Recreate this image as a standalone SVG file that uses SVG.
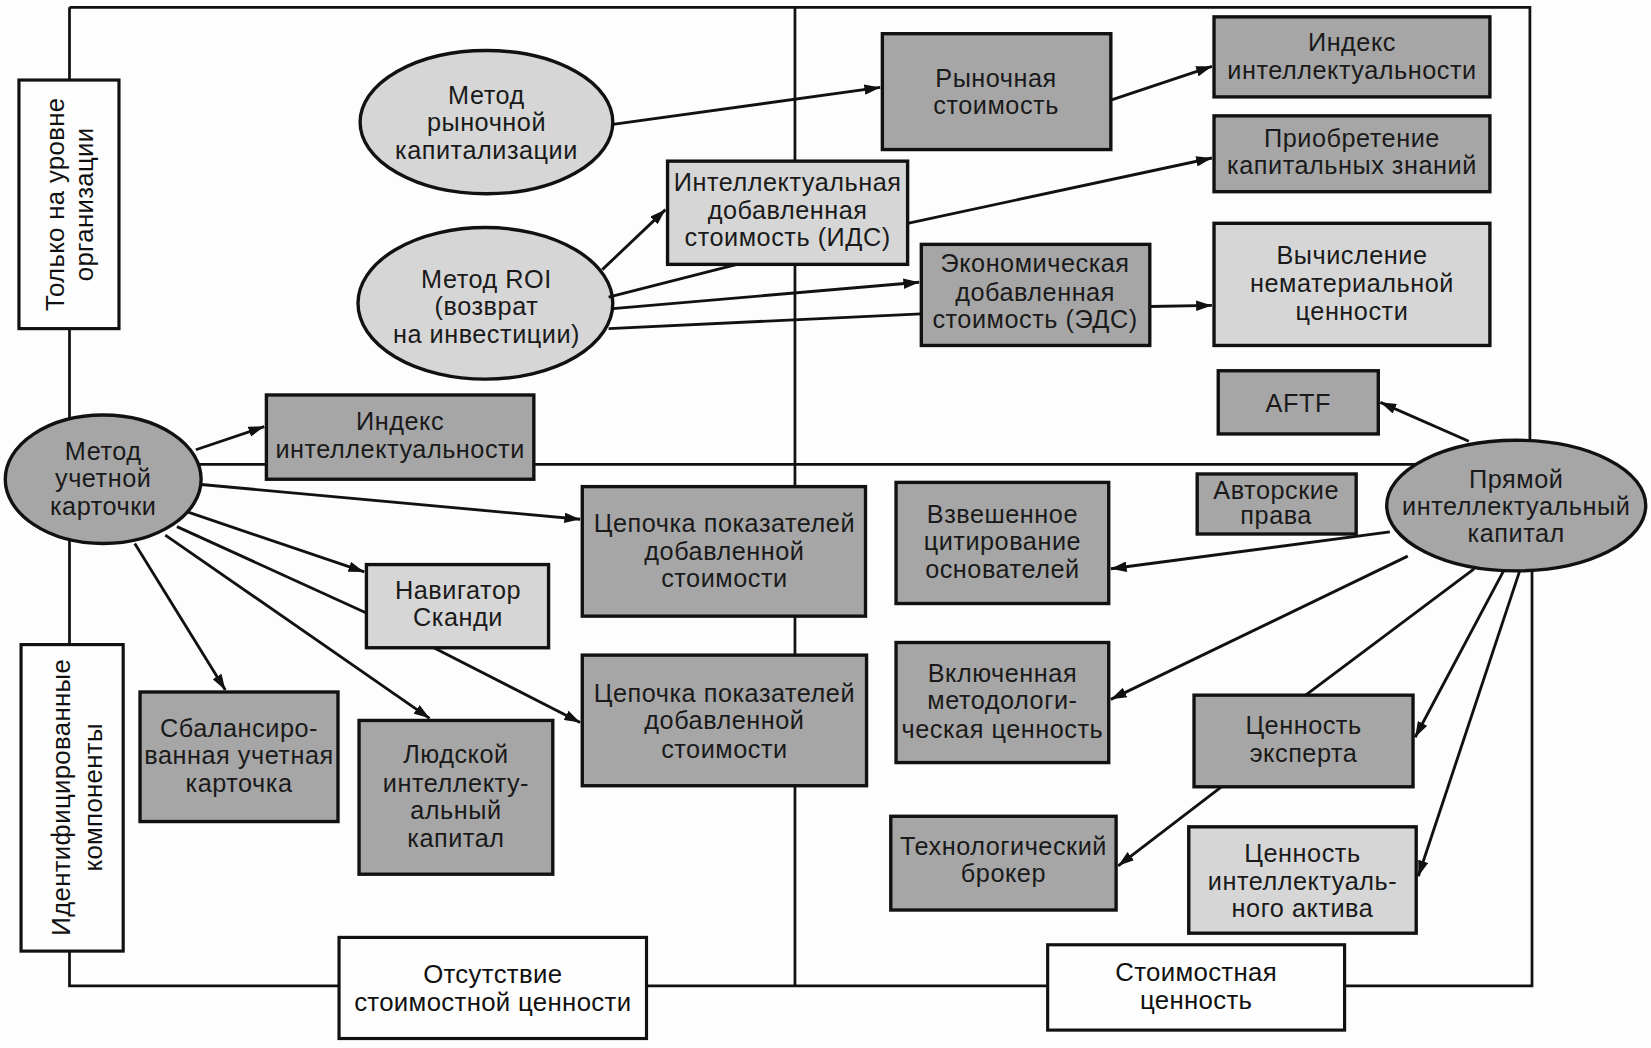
<svg xmlns="http://www.w3.org/2000/svg" width="1651" height="1048" viewBox="0 0 1651 1048">
<style>
.bg{fill:#fdfdfd}
.frame{fill:none;stroke:#111;stroke-width:2.6}
.c{fill:none;stroke:#111;stroke-width:2.7}
.ca{fill:none;stroke:#111;stroke-width:2.7;marker-end:url(#ah)}
.dk{fill:#a6a6a6;stroke:#111;stroke-width:3.2}
.lt{fill:#d6d6d6;stroke:#111;stroke-width:3.2}
.wh{fill:#fefefe;stroke:#111;stroke-width:3}
.t{font-family:"Liberation Sans",Arial,sans-serif;font-size:24px;letter-spacing:0.5px;fill:#1a1a1a;text-anchor:middle;dominant-baseline:central}
.v{font-family:"Liberation Sans",Arial,sans-serif;font-size:24.5px;letter-spacing:0.3px;fill:#111;text-anchor:middle;dominant-baseline:central}
</style>
<defs>
<marker id="ah" markerUnits="userSpaceOnUse" markerWidth="15" markerHeight="10" refX="15" refY="5" orient="auto">
<path d="M0,0 L15,5 L0,10 z" fill="#111"/>
</marker>
</defs>
<rect class="bg" x="0" y="0" width="1651" height="1048"/>
<g transform="scale(1.05293,1.05327)">
<g id="frame">
<path class="frame" d="M66,7 H1453 V470"/>
<path class="frame" d="M66,7 V936 H330"/>
<path class="frame" d="M610,936 H1000"/>
<path class="frame" d="M1270,936 H1455 V500"/>
<path class="frame" d="M98,441 H1440"/>
<path class="frame" d="M755,7 V936"/>
</g>
<g id="n-only-org"><rect class="wh" x="18" y="76" width="95" height="236"/>
<text class="v" transform="rotate(-90 65.5 194)"><tspan x="65.5" y="180.5">Только на уровне</tspan><tspan x="65.5" y="208.5">организации</tspan></text></g>
<g id="n-ident"><rect class="wh" x="20" y="612" width="97" height="291"/>
<text class="v" transform="rotate(-90 68.5 757)"><tspan x="68.5" y="746.5">Идентифицированные</tspan><tspan x="68.5" y="776.5">компоненты</tspan></text></g>
<g id="n-no-cost"><rect class="wh" x="322" y="890" width="292" height="96"/>
<text class="v"><tspan x="468" y="925">Отсутствие</tspan><tspan x="468" y="951">стоимостной ценности</tspan></text></g>
<g id="n-cost"><rect class="wh" x="995" y="897" width="282" height="81"/>
<text class="v"><tspan x="1136" y="923">Стоимостная</tspan><tspan x="1136" y="949">ценность</tspan></text></g>

<g id="n-market-cap"><ellipse class="lt" cx="462" cy="116" rx="120" ry="68"/>
<text class="t"><tspan x="462" y="90">Метод</tspan><tspan x="462" y="116">рыночной</tspan><tspan x="462" y="142">капитализации</tspan></text></g>
<g id="n-roi"><ellipse class="lt" cx="461" cy="288" rx="121" ry="72"/>
<text class="t"><tspan x="462" y="265">Метод ROI</tspan><tspan x="462" y="291">(возврат</tspan><tspan x="462" y="317">на инвестиции)</tspan></text></g>
<g id="n-scorecard"><ellipse class="dk" cx="98" cy="455" rx="93" ry="61"/>
<text class="t"><tspan x="98" y="428">Метод</tspan><tspan x="98" y="454">учетной</tspan><tspan x="98" y="480">карточки</tspan></text></g>
<g id="n-direct"><ellipse class="dk" cx="1440" cy="480" rx="123" ry="62"/>
<text class="t"><tspan x="1440" y="455">Прямой</tspan><tspan x="1440" y="480">интеллектуальный</tspan><tspan x="1440" y="506">капитал</tspan></text></g>

<g id="n-market-value"><rect class="dk" x="838" y="32" width="217" height="110"/>
<text class="t"><tspan x="946" y="74">Рыночная</tspan><tspan x="946" y="100">стоимость</tspan></text></g>
<g id="n-index-top"><rect class="dk" x="1153" y="16" width="262" height="76"/>
<text class="t"><tspan x="1284" y="40">Индекс</tspan><tspan x="1284" y="66">интеллектуальности</tspan></text></g>
<g id="n-acquire"><rect class="dk" x="1153" y="110" width="262" height="72"/>
<text class="t"><tspan x="1284" y="131">Приобретение</tspan><tspan x="1284" y="157">капитальных знаний</tspan></text></g>
<g id="n-ids"><rect class="lt" x="634" y="153" width="228" height="98"/>
<text class="t"><tspan x="748" y="173">Интеллектуальная</tspan><tspan x="748" y="199">добавленная</tspan><tspan x="748" y="225">стоимость (ИДС)</tspan></text></g>
<g id="n-eds"><rect class="dk" x="875" y="232" width="217" height="96"/>
<text class="t"><tspan x="983" y="250">Экономическая</tspan><tspan x="983" y="277">добавленная</tspan><tspan x="983" y="303">стоимость (ЭДС)</tspan></text></g>
<g id="n-intangible"><rect class="lt" x="1153" y="212" width="262" height="116"/>
<text class="t"><tspan x="1284" y="242">Вычисление</tspan><tspan x="1284" y="269">нематериальной</tspan><tspan x="1284" y="295">ценности</tspan></text></g>
<g id="n-aftf"><rect class="dk" x="1157" y="352" width="152" height="60"/>
<text class="t"><tspan x="1233" y="383">AFTF</tspan></text></g>
<g id="n-index-left"><rect class="dk" x="253" y="375" width="254" height="80"/>
<text class="t"><tspan x="380" y="400">Индекс</tspan><tspan x="380" y="426">интеллектуальности</tspan></text></g>
<g id="n-chain1"><rect class="dk" x="553" y="462" width="269" height="123"/>
<text class="t"><tspan x="688" y="497">Цепочка показателей</tspan><tspan x="688" y="523">добавленной</tspan><tspan x="688" y="549">стоимости</tspan></text></g>
<g id="n-navigator"><rect class="lt" x="348" y="536" width="173" height="79"/>
<text class="t"><tspan x="435" y="560">Навигатор</tspan><tspan x="435" y="586">Сканди</tspan></text></g>
<g id="n-chain2"><rect class="dk" x="553" y="622" width="270" height="124"/>
<text class="t"><tspan x="688" y="658">Цепочка показателей</tspan><tspan x="688" y="684">добавленной</tspan><tspan x="688" y="711">стоимости</tspan></text></g>
<g id="n-bsc"><rect class="dk" x="133" y="657" width="188" height="123"/>
<text class="t"><tspan x="227" y="691">Сбалансиро-</tspan><tspan x="227" y="717">ванная учетная</tspan><tspan x="227" y="743">карточка</tspan></text></g>
<g id="n-human"><rect class="dk" x="341" y="684" width="184" height="146"/>
<text class="t"><tspan x="433" y="716">Людской</tspan><tspan x="433" y="743">интеллекту-</tspan><tspan x="433" y="769">альный</tspan><tspan x="433" y="796">капитал</tspan></text></g>
<g id="n-copyright"><rect class="dk" x="1137" y="450" width="151" height="57"/>
<text class="t"><tspan x="1212" y="465">Авторские</tspan><tspan x="1212" y="489">права</tspan></text></g>
<g id="n-citation"><rect class="dk" x="851" y="458" width="202" height="115"/>
<text class="t"><tspan x="952" y="488">Взвешенное</tspan><tspan x="952" y="514">цитирование</tspan><tspan x="952" y="540">основателей</tspan></text></g>
<g id="n-method"><rect class="dk" x="851" y="610" width="202" height="114"/>
<text class="t"><tspan x="952" y="639">Включенная</tspan><tspan x="952" y="665">методологи-</tspan><tspan x="952" y="692">ческая ценность</tspan></text></g>
<g id="n-expert"><rect class="dk" x="1134" y="660" width="208" height="87"/>
<text class="t"><tspan x="1238" y="688">Ценность</tspan><tspan x="1238" y="715">эксперта</tspan></text></g>
<g id="n-broker"><rect class="dk" x="846" y="775" width="214" height="89"/>
<text class="t"><tspan x="953" y="803">Технологический</tspan><tspan x="953" y="829">брокер</tspan></text></g>
<g id="n-asset"><rect class="lt" x="1129" y="785" width="216" height="101"/>
<text class="t"><tspan x="1237" y="810">Ценность</tspan><tspan x="1237" y="836">интеллектуаль-</tspan><tspan x="1237" y="862">ного актива</tspan></text></g>

<g id="connectors">
<path class="ca" d="M582,118 L836,83"/>
<path class="ca" d="M1055,95 L1151,63"/>
<path class="ca" d="M572,256 L632,199"/>
<path class="ca" d="M862,212 L1151,150"/>
<path class="c" d="M578,282 L700,251"/>
<path class="ca" d="M582,293 L873,268"/>
<path class="c" d="M578,312 L875,298"/>
<path class="ca" d="M1092,291 L1151,290"/>
<path class="ca" d="M1395,419 L1311,382"/>
<path class="ca" d="M186,427 L251,405"/>
<path class="ca" d="M191,460 L551,493"/>
<path class="ca" d="M178,486 L346,543"/>
<path class="c" d="M168,500 L348,582"/>
<path class="ca" d="M412,615 L551,686"/>
<path class="ca" d="M157,508 L408,682"/>
<path class="ca" d="M128,516 L214,655"/>
<path class="ca" d="M1320,505 L1055,540"/>
<path class="ca" d="M1337,528 L1055,664"/>
<path class="c" d="M1400,540 L1240,660"/>
<path class="ca" d="M1160,747 L1062,822"/>
<path class="ca" d="M1428,542 L1344,700"/>
<path class="ca" d="M1443,543 L1347,832"/>
</g>
</g>
</svg>
